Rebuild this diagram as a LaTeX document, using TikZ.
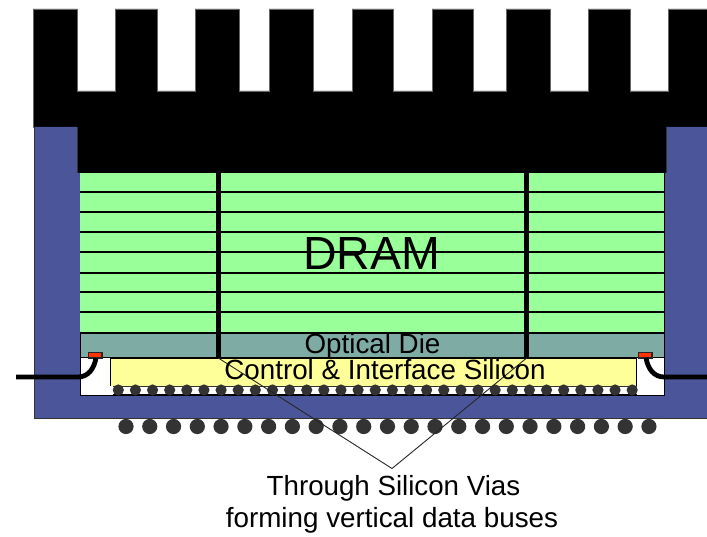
\documentclass[tikz,border=0pt]{standalone}
\usepackage{fontspec}
\setmainfont{Liberation Sans}
\definecolor{pkgblue}{HTML}{4A5699}
\definecolor{dramgreen}{HTML}{99FF99}
\definecolor{optteal}{HTML}{7FABA5}
\definecolor{ctrlyellow}{HTML}{FFFF99}
\definecolor{padred}{HTML}{FF3300}
\definecolor{balldark}{HTML}{333333}
\tikzset{
  layer/.style={draw=black,line width=1pt},
  bus/.style={draw=black,line width=4.8pt},
  wire/.style={draw=black,line width=4.8pt},
  leader/.style={draw=black!85,line width=0.9pt},
  lbl/.style={inner sep=0pt,outer sep=0pt,anchor=base,text=black},
}
\begin{document}
\begin{tikzpicture}[x=1pt,y=-1pt]
\useasboundingbox (0,0) rectangle (707,537);
% heat sink
\fill[black,draw=black!60,line width=0.5pt] (33,127) -- (33,9) -- (77,9) -- (77,91) -- (115,91) -- (115,9) -- (157,9) -- (157,91) -- (195,91) -- (195,9) -- (239,9) -- (239,91) -- (269,91) -- (269,9) -- (313,9) -- (313,91) -- (352,91) -- (352,9) -- (393,9) -- (393,91) -- (432,91) -- (432,9) -- (473,9) -- (473,91) -- (506,91) -- (506,9) -- (550,9) -- (550,91) -- (588,91) -- (588,9) -- (630,9) -- (630,91) -- (668,91) -- (668,9) -- (707,9) -- (707,127) -- (666,127) -- (666,173) -- (77,173) -- (77,127) -- cycle;
% package
\fill[pkgblue] (35,127) -- (77,127) -- (77,173) -- (80,173) -- (80,395) -- (664,395) -- (664,173) -- (666,173) -- (666,127) -- (707,127) -- (707,418) -- (34,418) -- (34,127) -- cycle;
\draw[black,line width=1pt] (80,173) -- (80,395) -- (664,395) -- (664,173);
\draw[black!80,line width=0.8pt] (34,127) -- (34,418) -- (707,418);
\draw[black!80,line width=0.6pt] (77,127) -- (77,173);
\draw[black!80,line width=0.6pt] (666,127) -- (666,173);
% DRAM stack
\fill[dramgreen] (80,173) rectangle (664,333);
\foreach \yy in {192,212,232,252,273,292,312,333}
  \draw[black,line width=1.3pt] (80,\yy) -- (664,\yy);
% optical die
\fill[optteal] (80,333) rectangle (664,358);
\draw[layer] (80,333) rectangle (664,358);
\draw[black,line width=1.3pt] (80,333) -- (664,333);
% control die
\fill[ctrlyellow] (110.5,358) rectangle (636.5,386);
\draw[black,line width=0.9pt] (110.5,386) -- (110.5,358) -- (636.5,358) -- (636.5,386);
% micro bumps
\draw[balldark,line width=1.8pt] (113,386.5) -- (636.5,386.5);
\draw[black,line width=1.5pt] (113,394.5) -- (636.5,394.5);
\foreach \k in {0,...,30}
  \fill[balldark] ({118.3+17.13*\k},390) circle[radius=5.6];
% pads
\draw[fill=padred,draw=black!85,line width=1.2pt] (88.5,352.5) rectangle (102,358);
\draw[fill=padred,draw=black!85,line width=1.2pt] (638.5,352.5) rectangle (652,358);
% outer wires
\coordinate (wireLa) at (16,377);
\coordinate (wireLb) at (96,358);
\coordinate (wireRa) at (707,377);
\coordinate (wireRb) at (646,358);
\draw[wire] (wireLa) -- (78,377) .. controls (88,377) and (94,369) .. (wireLb);
\draw[wire] (wireRa) -- (664,377) .. controls (654,377) and (648,369) .. (wireRb);
% package balls
\foreach \k in {0,...,22}
  \fill[balldark] ({126+23.77*\k},426.5) circle[radius=7.6];
% vias
\coordinate (busLtop) at (218.3,173);
\coordinate (busLbot) at (218.3,358);
\coordinate (busRtop) at (526.7,173);
\coordinate (busRbot) at (526.7,358);
\draw[bus] (busLtop) -- (busLbot);
\draw[bus] (busRtop) -- (busRbot);
% leaders
\coordinate (apex) at (392,468.5);
\draw[leader] (busLbot) -- (apex) -- (busRbot);
% labels
\node[lbl,font=\fontsize{46.5}{50}\selectfont] (dram) at (371.7,270) {DRAM};
\node[lbl,font=\fontsize{27.8}{30}\selectfont] (opt) at (372.5,353) {Optical Die};
\node[lbl,font=\fontsize{27.8}{30}\selectfont] (ctrl) at (385,380) {Control \& Interface Silicon};
\node[lbl,font=\fontsize{27.7}{30}\selectfont] (tsv) at (393.5,495) {Through Silicon Vias};
\node[lbl,font=\fontsize{27.8}{30}\selectfont] (buses) at (392,527) {forming vertical data buses};
\end{tikzpicture}
\end{document}
